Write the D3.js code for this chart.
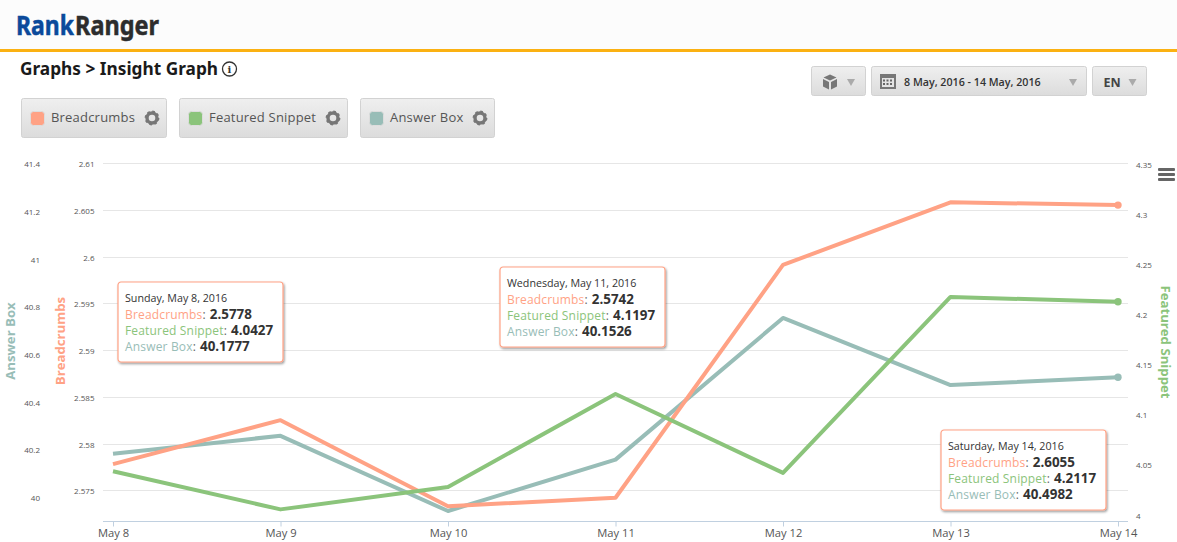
<!DOCTYPE html>
<html><head><meta charset="utf-8">
<script src="https://cdn.jsdelivr.net/npm/d3@7/dist/d3.min.js"></script>
<style>
html,body{margin:0;padding:0;background:#fff;overflow:hidden}
svg{display:block}
text{font-family:"Open Sans",sans-serif}
</style></head><body>
<svg id="c" width="1177" height="542"></svg>
<script>
const categories=["May 8","May 9","May 10","May 11","May 12","May 13","May 14"];
const breadcrumbs=[2.5778,2.5825,2.5733,2.5742,2.5991,2.6058,2.6055];
const featuredSnippet=[4.0427,4.0046,4.027,4.1197,4.041,4.2166,4.2117];
const answerBox=[40.1777,40.2525,39.937,40.1526,40.747,40.4655,40.4982];
const breadcrumbTicks=[2.575,2.58,2.585,2.59,2.595,2.6,2.605,2.61];
const featuredTicks=[4,4.05,4.1,4.15,4.2,4.25,4.3,4.35];
const answerTicks=[40,40.2,40.4,40.6,40.8,41,41.2,41.4];
const seriesNames=["Breadcrumbs","Featured Snippet","Answer Box"];
const tooltipDates=["Sunday, May 8, 2016","Wednesday, May 11, 2016","Saturday, May 14, 2016"];
const tooltipIndex=[0,3,6];
const dateRange="8 May, 2016 - 14 May, 2016";

const C={b:"#ffa285",f:"#8bc47b",a:"#98bdb7"};
const svg=d3.select("#c");
const defs=svg.append("defs");
const g=defs.append("linearGradient").attr("id","btn").attr("x2",0).attr("y2",1);
g.append("stop").attr("offset",0).attr("stop-color","#efefef");
g.append("stop").attr("offset",1).attr("stop-color","#dcdcdc");
const fl=defs.append("filter").attr("id","sh").attr("x","-10%").attr("y","-10%").attr("width","125%").attr("height","125%");
fl.append("feDropShadow").attr("dx",1).attr("dy",1.5).attr("stdDeviation",1.3).attr("flood-color","#000").attr("flood-opacity",.4);

// header
svg.append("rect").attr("width",1177).attr("height",49).attr("fill","#fcfcfc");
svg.append("rect").attr("y",49).attr("width",1177).attr("height",3).attr("fill","#fbb112");
[["Rank","#0b4a9b",16,58],["Ranger","#2d2d2d",75,84]].forEach(([t,col,lx,lw])=>{
  const el=svg.append("text").attr("font-size",27).attr("font-weight",700)
    .style("font-family","'Noto Sans',sans-serif").attr("fill",col).attr("stroke",col).attr("stroke-width",.5).text(t);
  const sx=lw/el.node().getComputedTextLength();
  el.attr("transform",`translate(${lx},35) scale(${sx},1)`);
});
svg.append("text").attr("x",20).attr("y",75).attr("font-size",18).attr("font-weight",700).attr("fill","#1a1a1a")
  .style("font-family","'Noto Sans',sans-serif").attr("textLength",198).attr("lengthAdjust","spacingAndGlyphs").text("Graphs > Insight Graph");
const info=svg.append("g").attr("transform","translate(229.5,69)");
info.append("circle").attr("r",7).attr("fill","none").attr("stroke","#333").attr("stroke-width",1.3);
info.append("text").attr("text-anchor","middle").attr("y",4).attr("font-size",10).attr("font-weight",700).attr("fill","#333").style("font-family","'DejaVu Serif',serif").text("i");

function button(x,y,w,h){
  svg.append("rect").attr("x",x+.5).attr("y",y+.5).attr("width",w-1).attr("height",h-1).attr("rx",2)
    .attr("fill","url(#btn)").attr("stroke","#d2d2d2");
}
function tri(cx,cy){
  svg.append("path").attr("d",`M${cx-4},${cy-3}H${cx+4}L${cx},${cy+4}Z`).attr("fill","#aaa");
}
// legend buttons
const legendBoxes=[[21,146],[179,169],[360,135]];
[C.b,C.f,C.a].forEach((col,i)=>{
  const [x,w]=legendBoxes[i];
  button(x,98,w,40);
  svg.append("rect").attr("x",x+9.5).attr("y",111.5).attr("width",14).attr("height",14).attr("rx",3).attr("fill",col).attr("stroke","#ddd");
  svg.append("text").attr("x",x+30).attr("y",122).attr("font-size",13).attr("letter-spacing",.2).attr("fill","#555").text(seriesNames[i]);
  const gx=x+w-15;
  svg.append("circle").attr("cx",gx).attr("cy",118).attr("r",5).attr("fill","none").attr("stroke","#777").attr("stroke-width",3.4);
  svg.append("circle").attr("cx",gx).attr("cy",118).attr("r",6.6).attr("fill","none").attr("stroke","#777").attr("stroke-width",1.6).attr("stroke-dasharray","2.6 2.6");
});
// top-right buttons
button(811,66,55,30);button(871,66,216,30);button(1092,66,55,30);
tri(851,82);tri(1073,82);tri(1132.5,82);
svg.append("path").attr("d","M830,74.5l6.5,3l-6.5,3l-6.5,-3Z M823,79l6,3v7.5l-6,-3Z M837,79l-6,3v7.5l6,-3Z").attr("fill","#777");
svg.append("rect").attr("x",880).attr("y",74).attr("width",16).attr("height",15).attr("fill","#777");
svg.append("rect").attr("x",882).attr("y",78).attr("width",12).attr("height",9).attr("fill","#e4e4e4");
[883,886.5,890].forEach(x=>[79.5,83].forEach(y=>svg.append("rect").attr("x",x).attr("y",y).attr("width",2).attr("height",2).attr("fill","#666")));
svg.append("text").attr("x",904).attr("y",86).attr("font-size",10.7).attr("font-weight",600).attr("fill","#333").text(dateRange);
svg.append("text").attr("x",1103.5).attr("y",86.5).attr("font-size",12.5).attr("font-weight",700).attr("fill","#444").text("EN");

// scales
const x=d3.scalePoint().domain(categories).range([113,1118]);
const yB=d3.scaleLinear().domain([2.575,2.61]).range([490.3,163]);
const yF=d3.scaleLinear().domain([4,4.35]).range([514,163.2]);
const yA=d3.scaleLinear().domain([40,41.4]).range([496,162.3]);

// grid
svg.append("g").selectAll("line").data(breadcrumbTicks).join("line")
  .attr("x1",103).attr("x2",1128).attr("y1",d=>Math.round(yB(d))+.5).attr("y2",d=>Math.round(yB(d))+.5)
  .attr("stroke","#e6e6e6");

// axes
function yAxis(axis,tx,dy){
  const a=svg.append("g").attr("transform",`translate(${tx},0)`).call(axis.tickSize(0).tickPadding(0));
  a.select(".domain").remove();
  a.selectAll("text").attr("font-size",8).attr("fill","#555").style("font-family","'Open Sans',sans-serif").attr("dy",dy);
}
yAxis(d3.axisLeft(yA).tickValues(answerTicks).tickFormat(d3.format("~r")),40,4.5);
yAxis(d3.axisLeft(yB).tickValues(breadcrumbTicks).tickFormat(d3.format("~r")),94.5,3.5);
yAxis(d3.axisRight(yF).tickValues(featuredTicks).tickFormat(d3.format("~r")),1136,4);

const xa=svg.append("g").attr("transform","translate(0,521.5)").call(d3.axisBottom(x).tickSize(5).tickPadding(3));
xa.select(".domain").attr("d","M103,0H1128").attr("stroke","#c0d0e0");
xa.selectAll("line").attr("stroke","#c0d0e0");
xa.selectAll("text").attr("font-size",11.2).attr("fill","#555").style("font-family","'Open Sans',sans-serif");

// axis titles
function axisTitle(t,tx,ty,rot,col){
  svg.append("text").attr("transform",`translate(${tx},${ty}) rotate(${rot})`).attr("text-anchor","middle")
    .attr("font-size",13.2).attr("font-weight",700).attr("fill",col).text(t);
}
axisTitle(seriesNames[2],14.5,341,-90,C.a);
axisTitle(seriesNames[0],65,341,-90,C.b);
axisTitle(seriesNames[1],1161,342,90,C.f);

// lines
const series=[[answerBox,yA,C.a],[breadcrumbs,yB,C.b],[featuredSnippet,yF,C.f]];
series.forEach(([vals,sc,col])=>{
  const ln=d3.line().x((d,i)=>x(categories[i])).y(d=>sc(d));
  svg.append("path").attr("d",ln(vals)).attr("fill","none").attr("stroke",col).attr("stroke-width",4).attr("stroke-linejoin","round");
  svg.append("circle").attr("cx",x(categories[6])).attr("cy",sc(vals[6])).attr("r",3.7).attr("fill",col);
});

// hamburger
[168,173,178].forEach(y=>svg.append("rect").attr("x",1158).attr("y",y).attr("width",17).attr("height",3).attr("rx",1).attr("fill","#666"));

// tooltips
const tipPos=[[118,282],[500,267],[941,430]];
tooltipIndex.forEach((idx,k)=>{
  const [tx,ty]=tipPos[k];
  const t=svg.append("g").attr("transform",`translate(${tx},${ty})`);
  t.append("rect").attr("width",165).attr("height",80).attr("rx",3).attr("fill","#fff").attr("stroke",C.b).attr("stroke-width",1.2).attr("filter","url(#sh)");
  t.append("text").attr("x",7).attr("y",20).attr("font-size",10.7).attr("fill","#333").text(tooltipDates[k]);
  [[breadcrumbs,C.b],[featuredSnippet,C.f],[answerBox,C.a]].forEach(([v,col],j)=>{
    const tt=t.append("text").attr("x",7).attr("y",36.5+j*16).attr("font-size",12);
    tt.append("tspan").attr("fill",col).attr("letter-spacing",.17).text(seriesNames[j]);
    tt.append("tspan").attr("fill","#666").text(": ");
    tt.append("tspan").attr("fill","#333").attr("font-weight",700).attr("font-size",13.4).attr("dx",1).text(d3.format(".4f")(v[idx]));
  });
});
</script></body></html>
